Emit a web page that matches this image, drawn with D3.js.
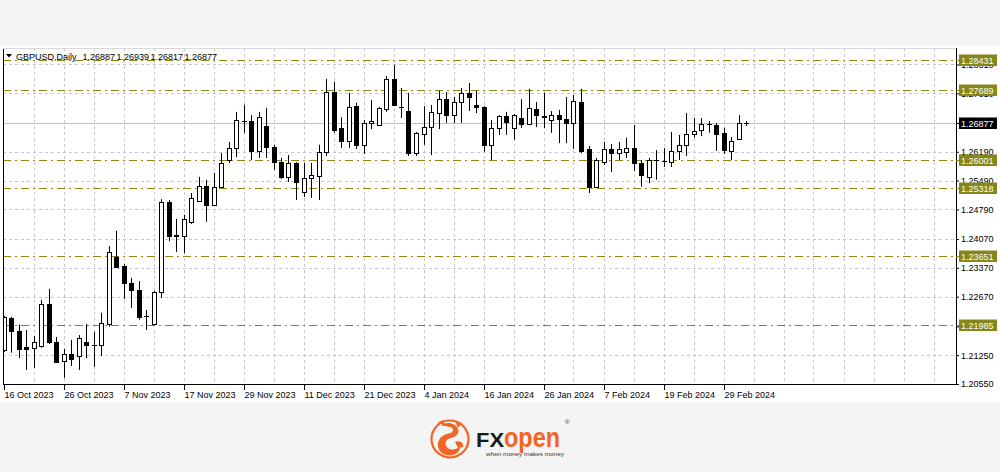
<!DOCTYPE html>
<html><head><meta charset="utf-8">
<script src="https://cdn.jsdelivr.net/npm/d3@7"></script>
<style>
html,body{margin:0;padding:0;background:#f4f4f4;}
svg{display:block;}
text{font-family:"Liberation Sans",Arial,sans-serif;}
</style></head>
<body>
<svg id="chart" width="1000" height="472"></svg>
<script>
const dates = [
"2023-10-16","2023-10-17","2023-10-18","2023-10-19","2023-10-20","2023-10-23","2023-10-24","2023-10-25","2023-10-26","2023-10-27","2023-10-30","2023-10-31",
"2023-11-01","2023-11-02","2023-11-03","2023-11-06","2023-11-07","2023-11-08","2023-11-09","2023-11-10","2023-11-13","2023-11-14","2023-11-15","2023-11-16","2023-11-17","2023-11-20","2023-11-21","2023-11-22","2023-11-23","2023-11-24","2023-11-27","2023-11-28","2023-11-29","2023-11-30",
"2023-12-01","2023-12-04","2023-12-05","2023-12-06","2023-12-07","2023-12-08","2023-12-11","2023-12-12","2023-12-13","2023-12-14","2023-12-15","2023-12-18","2023-12-19","2023-12-20","2023-12-21","2023-12-22","2023-12-26","2023-12-27","2023-12-28","2023-12-29",
"2024-01-02","2024-01-03","2024-01-04","2024-01-05","2024-01-08","2024-01-09","2024-01-10","2024-01-11","2024-01-12","2024-01-15","2024-01-16","2024-01-17","2024-01-18","2024-01-19","2024-01-22","2024-01-23","2024-01-24","2024-01-25","2024-01-26","2024-01-29","2024-01-30","2024-01-31",
"2024-02-01","2024-02-02","2024-02-05","2024-02-06","2024-02-07","2024-02-08","2024-02-09","2024-02-12","2024-02-13","2024-02-14","2024-02-15","2024-02-16","2024-02-19","2024-02-20","2024-02-21","2024-02-22","2024-02-23","2024-02-26","2024-02-27","2024-02-28","2024-02-29",
"2024-03-01","2024-03-04","2024-03-05"];

const openP = [1.2138,1.2216,1.2184,1.2145,1.2143,1.2148,1.2250,1.2157,1.2111,1.2128,1.2123,1.2157,1.2150,1.2150,1.2201,1.2364,1.2342,1.2301,1.2284,1.2220,
1.2201,1.2279,1.2497,1.2417,1.2415,1.2449,1.2500,1.2536,1.2490,1.2534,1.2599,1.2628,1.2694,1.2694,1.2621,1.2682,1.2631,1.2594,1.2558,1.2592,
1.2521,1.2556,1.2560,1.2619,1.2764,1.2677,1.2645,1.2730,1.2636,1.2689,1.2684,1.2723,1.2796,1.2728,1.2718,1.2616,1.2662,1.2679,1.2713,1.2747,
1.2708,1.2740,1.2762,1.2733,1.2728,1.2636,1.2677,1.2706,1.2677,1.2701,1.2687,1.2723,1.2705,1.2696,1.2708,1.2699,1.2689,1.2740,1.2626,1.2534,
1.2594,1.2626,1.2616,1.2619,1.2628,1.2592,1.2558,1.2599,1.2597,1.2594,1.2621,1.2636,1.2662,1.2672,1.2687,1.2684,1.2665,1.2621,1.2650,1.26887];
const highP = [1.2220,1.2218,1.2199,1.2186,1.2172,1.2259,1.2286,1.2169,1.2140,1.2162,1.2174,1.2201,1.2182,1.2228,1.2390,1.2427,1.2347,1.2313,1.2305,1.2235,
1.2281,1.2504,1.2502,1.2456,1.2466,1.2519,1.2558,1.2551,1.2568,1.2616,1.2643,1.2716,1.2733,1.2708,1.2716,1.2725,1.2636,1.2604,1.2611,1.2594,
1.2592,1.2592,1.2636,1.2796,1.2789,1.2703,1.2762,1.2738,1.2696,1.2745,1.2728,1.2803,1.2830,1.2774,1.2762,1.2667,1.2730,1.2733,1.2767,1.2764,
1.2752,1.2774,1.2786,1.2767,1.2730,1.2696,1.2708,1.2716,1.2711,1.2747,1.2772,1.2740,1.2762,1.2718,1.2721,1.2752,1.2757,1.2772,1.2633,1.2604,
1.2643,1.2638,1.2643,1.2653,1.2684,1.2599,1.2604,1.2623,1.2628,1.2667,1.2660,1.2713,1.2701,1.2701,1.2694,1.2689,1.2677,1.2655,1.2708,1.26939];
const lowP = [1.2133,1.2131,1.2118,1.2089,1.2094,1.2143,1.2152,1.2106,1.2070,1.2099,1.2089,1.2118,1.2097,1.2123,1.2194,1.2337,1.2262,1.2240,1.2211,1.2186,
1.2199,1.2264,1.2402,1.2376,1.2373,1.2444,1.2497,1.2449,1.2488,1.2531,1.2592,1.2606,1.2665,1.2599,1.2604,1.2604,1.2575,1.2553,1.2546,1.2502,
1.2509,1.2507,1.2502,1.2609,1.2665,1.2628,1.2628,1.2626,1.2614,1.2674,1.2682,1.2716,1.2730,1.2701,1.2609,1.2609,1.2636,1.2611,1.2674,1.2689,
1.2689,1.2689,1.2718,1.2713,1.2619,1.2599,1.2660,1.2660,1.2648,1.2677,1.2684,1.2679,1.2677,1.2665,1.2640,1.2640,1.2626,1.2616,1.2519,1.2531,
1.2587,1.2570,1.2599,1.2604,1.2572,1.2534,1.2543,1.2551,1.2582,1.2582,1.2599,1.2609,1.2653,1.2657,1.2665,1.2621,1.2614,1.2599,1.2648,1.26817];
const closeP = [1.2218,1.2184,1.2140,1.2140,1.2157,1.2250,1.2157,1.2109,1.2128,1.2116,1.2167,1.2150,1.2149,1.2203,1.2376,1.2339,1.2301,1.2284,1.2218,1.2219,
1.2279,1.2497,1.2415,1.2415,1.2456,1.2507,1.2536,1.2490,1.2534,1.2592,1.2628,1.2696,1.2693,1.2621,1.2703,1.2631,1.2594,1.2558,1.2592,1.2546,
1.2556,1.2563,1.2619,1.2764,1.2672,1.2645,1.2728,1.2636,1.2689,1.2694,1.2725,1.2796,1.2733,1.2727,1.2616,1.2665,1.2679,1.2716,1.2747,1.2708,
1.2740,1.2762,1.2752,1.2728,1.2636,1.2677,1.2706,1.2691,1.2708,1.2687,1.2725,1.2708,1.2703,1.2708,1.2699,1.2689,1.2742,1.2621,1.2534,1.2599,
1.2626,1.2616,1.2626,1.2628,1.2592,1.2563,1.2599,1.2598,1.2596,1.2621,1.2636,1.2662,1.2670,1.2687,1.2686,1.2662,1.2623,1.2645,1.2689,1.26877];

const yTicks = [1.28310,1.27610,1.26890,1.26190,1.25490,1.24790,1.24070,1.23370,1.22670,1.21950,1.21250,1.20550];
const levels = [1.28431,1.27689,1.26001,1.25318,1.23651,1.21985];
const lastPrice = 1.26877;
const xTickDates = ["2023-10-16","2023-10-26","2023-11-07","2023-11-17","2023-11-29","2023-12-11","2023-12-21","2024-01-04","2024-01-16","2024-01-26","2024-02-07","2024-02-19","2024-02-29"];
const headerName = "GBPUSD,Daily";
const headerValues = ["1.26887","1.26939","1.26817","1.26877"];

const svg = d3.select("#chart");
const L = 3, R = 956, T = 48, B = 384;

svg.append("rect").attr("x",0).attr("y",46).attr("width",1000).attr("height",356).attr("fill","#ffffff");

const x = d3.scaleLinear().domain([0, 99]).range([3.5, 746]);
const y = d3.scaleLinear().domain([1.20550, 1.28662]).range([B, 50]);
const parse = d3.timeParse("%Y-%m-%d");
const fmt = d3.timeFormat("%-d %b %Y");

svg.append("clipPath").attr("id","plot").append("rect").attr("x",L).attr("y",T).attr("width",R-L).attr("height",B-T);
const g = svg.append("g").attr("clip-path","url(#plot)");

const tagged = levels.concat([lastPrice]);
const covered = v => tagged.some(t => Math.abs(y(t) - y(v)) < 3);

const vIdx = d3.range(4, 130, 4).filter(i => x(i) < R - 2);
g.selectAll("line.vg").data(vIdx).join("line")
  .attr("x1", d => Math.round(x(d)) + 0.5).attr("x2", d => Math.round(x(d)) + 0.5)
  .attr("y1", T).attr("y2", B)
  .attr("stroke","#c6c6c6").attr("stroke-dasharray","3,3");
g.selectAll("line.hg").data(yTicks.slice(0,-1).filter(v => !covered(v))).join("line")
  .attr("x1", L).attr("x2", R)
  .attr("y1", d => Math.round(y(d)) + 0.5).attr("y2", d => Math.round(y(d)) + 0.5)
  .attr("stroke","#c6c6c6").attr("stroke-dasharray","3,3");
g.append("line").attr("x1",L).attr("x2",R)
  .attr("y1", Math.round(y(lastPrice)) + 0.5).attr("y2", Math.round(y(lastPrice)) + 0.5)
  .attr("stroke","#c0c0c0");
g.selectAll("line.lv").data(levels).join("line")
  .attr("x1", L).attr("x2", R)
  .attr("y1", d => Math.round(y(d)) + 0.5).attr("y2", d => Math.round(y(d)) + 0.5)
  .attr("stroke","#8a8a10").attr("stroke-width",1.2).attr("stroke-dasharray","8,4,2,4");

const idx = d3.range(dates.length);
const cx = i => Math.round(x(i));
g.selectAll("line.wick").data(idx).join("line")
  .attr("x1", i => cx(i) + 0.5).attr("x2", i => cx(i) + 0.5)
  .attr("y1", i => y(highP[i])).attr("y2", i => y(lowP[i]))
  .attr("stroke","#000").attr("stroke-width",1);
g.selectAll("rect.body").data(idx).join("rect")
  .attr("x", i => cx(i) - 2 + 0.5)
  .attr("y", i => Math.round(y(Math.max(openP[i], closeP[i]))) + 0.5)
  .attr("width", 4)
  .attr("height", i => Math.max(0.01, Math.round(y(Math.min(openP[i], closeP[i]))) - Math.round(y(Math.max(openP[i], closeP[i])))))
  .attr("fill", i => closeP[i] >= openP[i] ? "#ffffff" : "#000000")
  .attr("stroke","#000").attr("stroke-width",1);
g.append("line").attr("x1", cx(99) - 2).attr("x2", cx(99) + 3)
  .attr("y1", Math.round(y(closeP[99])) + 0.5).attr("y2", Math.round(y(closeP[99])) + 0.5).attr("stroke","#000");

svg.append("line").attr("x1",L+0.5).attr("x2",L+0.5).attr("y1",T).attr("y2",B+0.5).attr("stroke","#000");
svg.append("line").attr("x1",L).attr("x2",R).attr("y1",B+0.5).attr("y2",B+0.5).attr("stroke","#000");
svg.append("line").attr("x1",R+0.5).attr("x2",R+0.5).attr("y1",T).attr("y2",B+0.5).attr("stroke","#000");
svg.append("line").attr("x1",L).attr("x2",R).attr("y1",T+0.5).attr("y2",T+0.5).attr("stroke","#d8d8d8");

const yAxis = d3.axisRight(y).tickValues(yTicks)
  .tickFormat(v => covered(v) ? "" : d3.format(".5f")(v)).tickSize(3).tickPadding(2);
const ya = svg.append("g").attr("transform", `translate(${R},0)`).call(yAxis);
ya.select(".domain").remove();
ya.selectAll("text").attr("font-family","Liberation Sans, Arial, sans-serif").attr("font-size",9).attr("fill","#000");
ya.selectAll("line").attr("stroke","#000");

const lab = svg.append("g");
levels.forEach(v => {
  const yy = Math.round(y(v));
  lab.append("line").attr("x1",R).attr("x2",R+4).attr("y1",yy+0.5).attr("y2",yy+0.5).attr("stroke","#808000");
  lab.append("rect").attr("x",R+3).attr("y",yy-5.5).attr("width",38).attr("height",11.5).attr("fill","#86861a");
  lab.append("text").attr("x",R+5).attr("y",yy+3.5).attr("font-size",9).attr("fill","#ffffff").text(v.toFixed(5));
});
{
  const yy = Math.round(y(lastPrice));
  lab.append("rect").attr("x",R+3).attr("y",yy-5.5).attr("width",38).attr("height",11.5).attr("fill","#000000");
  lab.append("text").attr("x",R+5).attr("y",yy+3.5).attr("font-size",9).attr("fill","#ffffff").text(lastPrice.toFixed(5));
}

const xt = svg.append("g");
xTickDates.forEach(ds => {
  const i = dates.indexOf(ds);
  const xx = cx(i) + 0.5;
  xt.append("line").attr("x1",xx).attr("x2",xx).attr("y1",B).attr("y2",B+6).attr("stroke","#000");
  xt.append("text").attr("x",xx).attr("y",B+14).attr("font-size",9).attr("fill","#000").text(fmt(parse(ds)));
});

svg.append("path").attr("d","M6,54 L12,54 L9,57.5 Z").attr("fill","#000");
svg.append("text").attr("x",16).attr("y",59.5).attr("font-size",9).attr("fill","#000").text(headerName);
svg.selectAll("text.hv").data(headerValues).join("text")
  .attr("x", (d,i) => 82.5 + i*34).attr("y",59.5).attr("font-size",9).attr("fill","#000").text(d => d);

const logo = svg.append("g");
const orange = "#f26522";
logo.append("circle").attr("cx",450).attr("cy",439).attr("r",18.5).attr("fill","none").attr("stroke",orange).attr("stroke-width",2.2);
logo.append("path").attr("fill",orange)
  .attr("d","M441,425 C447,421 456,423 458,429 C460,434 455,437 451,438 C446,439 444,443 447,447 C450,451 457,450 460,446 C461,452 454,457 446,455 C439,453 436,446 439,440 C441,436 446,434 450,433 C454,432 454,428 450,427 C447,426 444,427 441,425 Z");
logo.append("path").attr("fill",orange).attr("d","M437,423 L443,420 L445,425 Z M455,421 L462,423 L458,428 Z");
logo.append("path").attr("fill",orange).attr("d","M455,442 C459,440 464,442 463,447 L458,448 Z");
logo.append("text").attr("x",476).attr("y",447).attr("font-size",21).attr("font-weight","bold").attr("fill","#1a1a1a")
  .attr("textLength",28).attr("lengthAdjust","spacingAndGlyphs").text("FX");
logo.append("text").attr("x",504).attr("y",447).attr("font-size",28).attr("font-weight","bold").attr("fill",orange)
  .attr("textLength",56).attr("lengthAdjust","spacingAndGlyphs").text("open");
logo.append("text").attr("x",565).attr("y",424).attr("font-size",6).attr("fill","#333").text("®");
logo.append("text").attr("x",486).attr("y",456).attr("font-size",5).attr("fill","#333")
  .attr("textLength",78).attr("lengthAdjust","spacingAndGlyphs").text("when money makes money");
</script>
</body></html>
